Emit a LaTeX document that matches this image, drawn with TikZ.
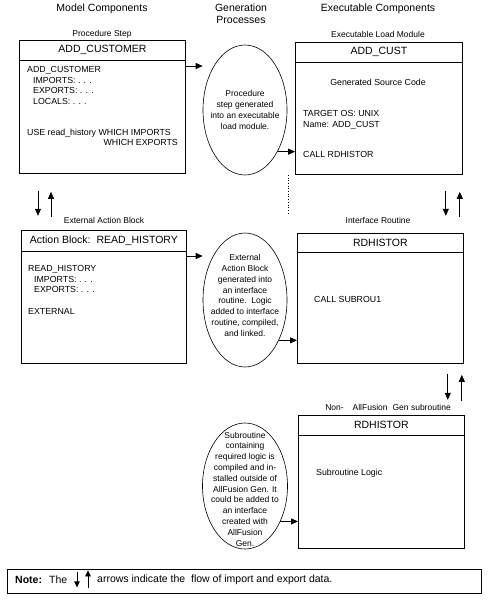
\documentclass[tikz,border=0pt]{standalone}
\usepackage{fontspec}
\setmainfont{Liberation Sans}
\usetikzlibrary{arrows.meta,shapes.geometric}

\begin{document}
\begin{tikzpicture}[x=1pt,y=-1pt,
  box/.style={draw, line width=0.8pt, inner sep=0pt, anchor=north west},
  headline/.style={line width=0.8pt},
  head/.style={font=\fontsize{10.5}{12}\selectfont, inner sep=0pt},
  title/.style={font=\fontsize{10.5}{12}\selectfont, align=center, inner sep=0pt},
  lbl/.style={font=\fontsize{8.5}{10}\selectfont, inner sep=0pt},
  body/.style={font=\fontsize{8.8}{10.4}\selectfont, align=left, anchor=north west, inner sep=0pt},
  gen/.style={draw, ellipse, line width=0.6pt, inner sep=0pt, minimum width=84pt},
  gentext/.style={font=\fontsize{8.5}{10.8}\selectfont, align=center, inner sep=0pt},
  flow/.style={-{Triangle[length=7pt,width=6pt]}, line width=0.8pt},
  noteflow/.style={-{Triangle[length=6pt,width=5.5pt]}, line width=0.8pt}]

\useasboundingbox (0,0) rectangle (491,610);

% titles
\node[title] (ttlmodel) at (102,9) {Model Components};
\node[title] (ttlgen) at (241,14) {Generation\\Processes};
\node[title] (ttlexec) at (378,9) {Executable Components};

% procedure step
\node[lbl] (lblproc) at (102,34) {Procedure Step};
\node[box, minimum width=166pt, minimum height=133pt] (cust) at (19,40) {};
\draw[headline] ([yshift=-20pt]cust.north west) -- ([yshift=-20pt]cust.north east);
\node[head] (custhead) at ([yshift=-10pt]cust.north) {ADD\_CUSTOMER};
\node[body] (custbody) at (27,66.5) {ADD\_CUSTOMER\\
  \hspace*{6pt}IMPORTS: . . .\\
  \hspace*{6pt}EXPORTS: . . .\\
  \hspace*{6pt}LOCALS: . . .\\[20.8pt]
  USE read\_history WHICH IMPORTS};
\node[body, anchor=north east] (custwe) at (178,139.5) {WHICH EXPORTS};

% generation of the load module
\node[gen, minimum height=130pt] (gen1) at (245,110) {};
\node[gentext] (gen1txt) at (gen1) {Procedure\\step generated\\into an executable\\load module.};
\coordinate (c1) at ([yshift=-26pt]cust.north east);
\draw[flow] (c1) -- (c1 -| gen1.west);

% executable load module
\node[lbl] (lblload) at (378,34) {Executable Load Module};
\node[box, minimum width=167pt, minimum height=132pt] (load) at (295,42) {};
\draw[headline] ([yshift=-20pt]load.north west) -- ([yshift=-20pt]load.north east);
\node[head] (loadhead) at ([yshift=-10pt]load.north) {ADD\_CUST};
\node[body, anchor=center] (loadsrc) at (378,82) {Generated Source Code};
\node[body] (loadtgt) at (303,110.5) {TARGET OS: UNIX\\Name: ADD\_CUST};
\node[body] (loadcall) at (303,151.5) {CALL RDHISTOR};
\coordinate (c2) at (gen1.-52);
\draw[flow] (c2) -- (c2 -| load.west);
\draw[dotted, line width=0.7pt] ([xshift=-7pt]load.south west) -- ++(0,38);

% import / export between the levels
\draw[flow] ([xshift=19pt,yshift=-17pt]cust.south west) -- ++(0,25);
\draw[flow] ([xshift=32pt,yshift=-43pt]cust.south west) -- ++(0,-25);
\draw[flow] ([xshift=-17pt,yshift=-16pt]load.south east) -- ++(0,25);
\draw[flow] ([xshift=-3pt,yshift=-42pt]load.south east) -- ++(0,-25);

% external action block
\node[lbl] (lblext) at (104,220) {External Action Block};
\node[box, minimum width=165pt, minimum height=133pt] (act) at (21,230) {};
\draw[headline] ([yshift=-21pt]act.north west) -- ([yshift=-21pt]act.north east);
\node[head] (acthead) at ([yshift=-10.5pt]act.north) {Action Block:\ \ READ\_HISTORY};
\node[body] (actbody) at (28,265.5) {READ\_HISTORY\\
  \hspace*{6pt}IMPORTS: . . .\\
  \hspace*{6pt}EXPORTS: . . .\\[11pt]
  EXTERNAL};

% generation of the interface routine
\node[gen, minimum height=134pt] (gen2) at (245,300) {};
\node[gentext] (gen2txt) at (245,295.5) {External\\Action Block\\generated into\\an interface\\routine.\ \ Logic\\added to interface\\routine, compiled,\\and linked.};
\coordinate (c3) at ([yshift=-26pt]act.north east);
\draw[flow] (c3) -- (c3 -| gen2.west);

% interface routine
\node[lbl] (lblintf) at (378,220) {Interface Routine};
\node[box, minimum width=166pt, minimum height=130pt] (intf) at (297,233) {};
\draw[headline] ([yshift=-19pt]intf.north west) -- ([yshift=-19pt]intf.north east);
\node[head] (intfhead) at ([yshift=-9.5pt]intf.north) {RDHISTOR};
\node[body] (intfcall) at (314,296.5) {CALL SUBROU1};
\coordinate (c4) at (gen2.-50);
\draw[flow] (c4) -- (c4 -| intf.west);
\draw[flow] ([xshift=-16pt,yshift=-10pt]intf.south east) -- ++(0,26);
\draw[flow] ([xshift=-2pt,yshift=-37pt]intf.south east) -- ++(0,-26);

% non allfusion subroutine
\node[lbl] (lblnon) at (388,407) {Non-\hspace{9pt}AllFusion\hspace{5pt}Gen subroutine};
\node[box, minimum width=166pt, minimum height=133pt] (subr) at (298,415) {};
\draw[headline] ([yshift=-20pt]subr.north west) -- ([yshift=-20pt]subr.north east);
\node[head] (subrhead) at ([yshift=-10pt]subr.north) {RDHISTOR};
\node[body] (subrlogic) at (316,468.5) {Subroutine Logic};
\node[gen, minimum width=85pt, minimum height=126pt] (gen3) at (245,486) {};
\node[gentext] (gen3txt) at (245,489) {Subroutine\\containing\\required logic is\\compiled and in-\\stalled outside of\\AllFusion Gen. It\\could be added to\\an interface\\created with\\AllFusion\\Gen.};
\coordinate (c5) at (gen3.-45);
\draw[flow] (c5) -- (c5 -| subr.west);

% note
\node[box, minimum width=474pt, minimum height=24pt] (note) at (7,569) {};
\node[anchor=west, inner sep=0pt, font=\fontsize{10.5}{12}\selectfont] (notelbl) at (15,580) {\textbf{Note:}};
\node[anchor=west, inner sep=0pt, font=\fontsize{10.5}{12}\selectfont] (notethe) at (49,580) {The};
\draw[noteflow] ([xshift=70pt,yshift=9pt]note.west) -- ++(0,15);
\draw[noteflow] ([xshift=81pt,yshift=-7pt]note.west) -- ++(0,-18);
\node[anchor=west, inner sep=0pt, font=\fontsize{10.5}{12}\selectfont] (notetxt) at (97,580) {arrows indicate the\ \ flow of import and export data.};

\end{tikzpicture}
\end{document}
